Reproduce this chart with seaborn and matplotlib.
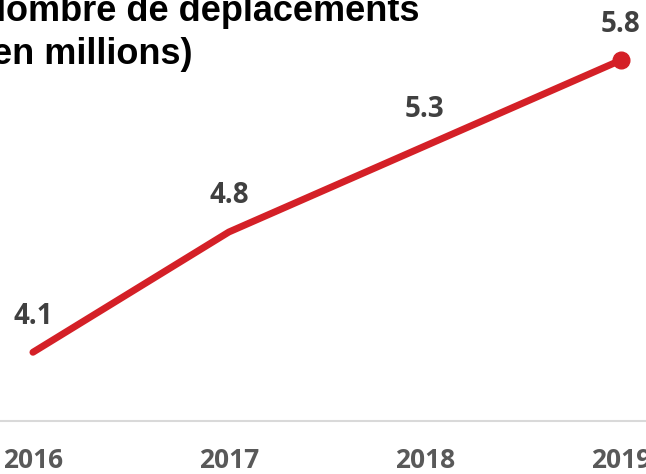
import pandas as pd
import matplotlib.pyplot as plt
import seaborn as sns

years = ["2016", "2017", "2018", "2019"]
trips = [4.1, 4.8, 5.3, 5.8]

df = pd.DataFrame({"year": years, "trips": trips})
df["pos"] = range(len(years))

sns.set_style("white")
plt.rcParams["font.family"] = ["Open Sans", "DejaVu Sans"]

fig = plt.figure(figsize=(6.46, 4.74), dpi=100)
ax = fig.add_axes([0, 0.1118, 1, 0.8882])

red = "#d42027"
sns.lineplot(data=df, x="pos", y="trips", color=red, linewidth=5,
             solid_capstyle="round", ax=ax)
# dot only on the last point
ax.plot(df["pos"].iloc[-1], df["trips"].iloc[-1], "o", color=red, markersize=12)

for x, y in zip(df["pos"], df["trips"]):
    ax.annotate(f"{y:.1f}", (x, y), xytext=(0, 26), textcoords="offset points",
                ha="center", va="center", fontsize=20, fontweight="bold", color="#404040")

ax.set_xlim(-0.168, 3.128)
ax.set_ylim(3.7, 6.15)
ax.set_xticks(df["pos"])
ax.set_xticklabels(years, fontsize=19, fontweight="bold", color="#595959")
ax.tick_params(axis="x", length=0, pad=19)
ax.set_yticks([])
ax.set_xlabel("")
ax.set_ylabel("")
for s in ["top", "left", "right"]:
    ax.spines[s].set_visible(False)
ax.spines["bottom"].set_color("#d9d9d9")
ax.spines["bottom"].set_linewidth(1.5)

fig.text(-0.031, 1.0 - 64 / 474, "Nombre de déplacements\n(en millions)",
         fontsize=26, fontweight="bold", family=["Liberation Sans", "DejaVu Sans"],
         ha="left", va="baseline", linespacing=1.3, color="black")

fig.savefig("out.png", dpi=100)
